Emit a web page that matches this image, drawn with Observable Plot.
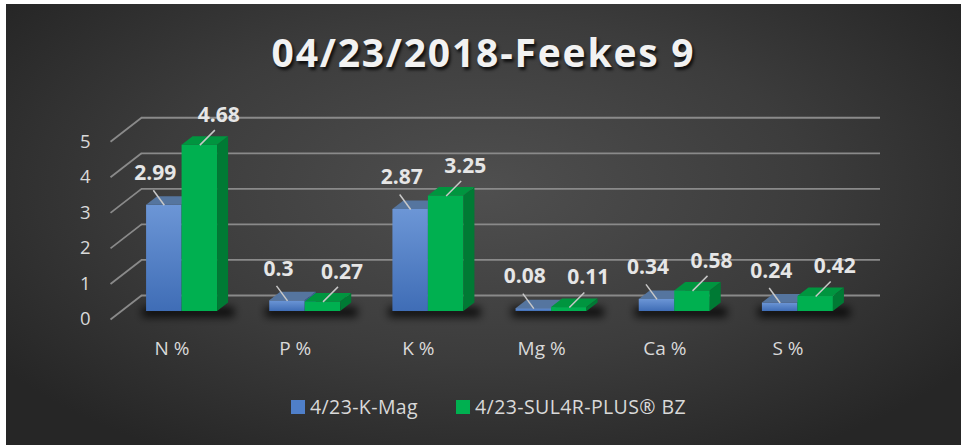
<!DOCTYPE html>
<html><head><meta charset="utf-8">
<script src="https://cdn.jsdelivr.net/npm/d3@7"></script>
<script src="https://cdn.jsdelivr.net/npm/@observablehq/plot@0.6"></script>
<style>
html,body{margin:0;padding:0;background:#fff;}
#chart{position:absolute;left:6px;top:4px;width:955px;height:441px;overflow:hidden;
background:radial-gradient(ellipse 62% 70% at 50% 42%, #4f4f4f 0%, #3c3c3c 55%, #262626 100%);
font-family:"Open Sans",sans-serif;}
#title{height:86px;box-sizing:border-box;padding-top:21px;text-align:center;font-size:39px;line-height:53px;font-weight:700;color:#f2f2f2;letter-spacing:1.8px;text-shadow:2px 3px 3px rgba(0,0,0,.75);white-space:nowrap;}
#plot svg{display:block;}
#legend{position:absolute;left:285px;top:393px;display:flex;align-items:center;font-size:19.5px;line-height:20px;color:#d9d9d9;white-space:nowrap;letter-spacing:0.4px;}
.item{display:flex;align-items:center;margin-right:38px;}
.sw{width:14px;height:14px;margin-right:5px;}
</style></head>
<body>
<div id="chart">
  <div id="title">04/23/2018-Feekes 9</div>
  <div id="plot"></div>
  <div id="legend"></div>
</div>
<script>
const categories = ["N %", "P %", "K %", "Mg %", "Ca %", "S %"];
const seriesNames = ["4/23-K-Mag", "4/23-SUL4R-PLUS® BZ"];
const kMag  = [2.99, 0.3, 2.87, 0.08, 0.34, 0.24];
const sul4r = [4.68, 0.27, 3.25, 0.11, 0.58, 0.42];
const yTicks = [0, 1, 2, 3, 4, 5];

const frontFill = ["url(#gBlue)", "#00b050"];
const topFill = ["#55759f", "#00953f"];
const sideFill = ["#3a5f99", "#007a34"];
const swatch = ["#4f7fc9", "#00b050"];
const shadowColor = "#010101";

const W = 955, H = 300, mL = 114, mR = 102, mB = 79, unit = 35.55;
const mT = H - mB - 5 * unit;
const kx = (W - mL - mR) / categories.length;
const px = p => p / kx, py = p => p / unit;
const barW = px(35.5);
const depX = px(11), depY = py(8.5);
const lblDx = [-9, 19], lblDy = [32, 30], leadDx = [-11, 15];

const series = [kMag, sul4r];
const rows = [];
categories.forEach((c, i) => {
  series.forEach((vals, s) => {
    const x1 = i + 0.5 - (s === 0 ? barW : 0);
    rows.push({id: c + s, cat: c, s, v: vals[i], x1, x2: x1 + barW, cx: x1 + barW / 2});
  });
});
const topPts = rows.flatMap(r => [
  {id: r.id, s: r.s, y: r.v, x1: r.x1, x2: r.x2},
  {id: r.id, s: r.s, y: r.v + depY, x1: r.x1 + depX, x2: r.x2 + depX}]);
const sidePts = rows.flatMap(r => [
  {id: r.id, s: r.s, x: r.x2, y1: 0, y2: r.v},
  {id: r.id, s: r.s, x: r.x2 + depX, y1: depY, y2: r.v + depY}]);
const shadows = categories.map((c, i) => ({x1: i + 0.5 - barW - px(4), x2: i + 0.5 + barW + depX + px(6)}));

const barMarks = [0, 1].flatMap(s => [
  Plot.rect(rows.filter(r => r.s === s), {x1: "x1", x2: "x2", y1: 0, y2: "v", fill: frontFill[s]}),
  Plot.areaX(topPts.filter(r => r.s === s), {y: "y", x1: "x1", x2: "x2", z: "id", fill: topFill[s]}),
  Plot.areaY(sidePts.filter(r => r.s === s), {x: "x", y1: "y1", y2: "y2", z: "id", fill: sideFill[s]})
]);

const svg = Plot.plot({
  width: W, height: H,
  marginLeft: mL, marginRight: mR, marginTop: mT, marginBottom: mB,
  x: {type: "linear", domain: [0, categories.length], axis: null},
  y: {type: "linear", domain: [0, 5], axis: null},
  style: {background: "transparent", fontFamily: "Open Sans, sans-serif", overflow: "visible"},
  marks: [
    Plot.ruleY(yTicks, {y: d => d, x1: px(21), x2: categories.length + px(21), dy: -16, stroke: "#8a8a8a", strokeWidth: 1.8}),
    Plot.link(yTicks, {x1: px(-10), y1: d => d - py(8), x2: px(21), y2: d => d + py(16), stroke: "#8a8a8a", strokeWidth: 1.8}),
    Plot.text(yTicks, {x: 0, y: d => d, dx: -30, dy: 8, text: d => String(d), textAnchor: "end", fontSize: 18.5, fill: "#d9d9d9"}),
    Plot.rect(shadows, {x1: "x1", x2: "x2", y1: py(-6), y2: py(4), fill: shadowColor, fillOpacity: 0.8}),
    ...barMarks,
    Plot.link(rows, {x1: "cx", y1: "v", x2: r => r.cx + px(leadDx[r.s]), y2: r => r.v + py(15), stroke: "#c8c8c8", strokeWidth: 1.5}),
    Plot.text(rows, {x: r => r.cx + px(lblDx[r.s]), y: r => r.v + py(lblDy[r.s]), text: r => String(r.v), fontSize: 21, fontWeight: 700, fill: "#e6e6e6"}),
    Plot.text(categories, {x: (d, i) => i + 0.5, y: 0, dx: -10, dy: 37, text: d => d, fontSize: 19, fill: "#d9d9d9"})
  ]
});

const defs = d3.select(svg).insert("defs", ":first-child");
const g = defs.append("linearGradient").attr("id", "gBlue").attr("x1", 0).attr("y1", 0).attr("x2", 0).attr("y2", 1);
g.append("stop").attr("offset", "0%").attr("stop-color", "#6c96d6");
g.append("stop").attr("offset", "100%").attr("stop-color", "#3f6db6");
defs.append("filter").attr("id", "blurShadow").attr("x", "-50%").attr("y", "-200%").attr("width", "200%").attr("height", "500%")
  .append("feGaussianBlur").attr("stdDeviation", 4);
d3.select(svg).selectAll("g, rect").filter(function() {
  return (this.getAttribute("fill") || "").toLowerCase() === shadowColor;
}).attr("filter", "url(#blurShadow)");

document.getElementById("plot").appendChild(svg);

const legend = d3.select("#legend");
seriesNames.forEach((n, i) => {
  const it = legend.append("div").attr("class", "item");
  it.append("div").attr("class", "sw").style("background", swatch[i]);
  it.append("span").text(n);
});
</script>
</body></html>
